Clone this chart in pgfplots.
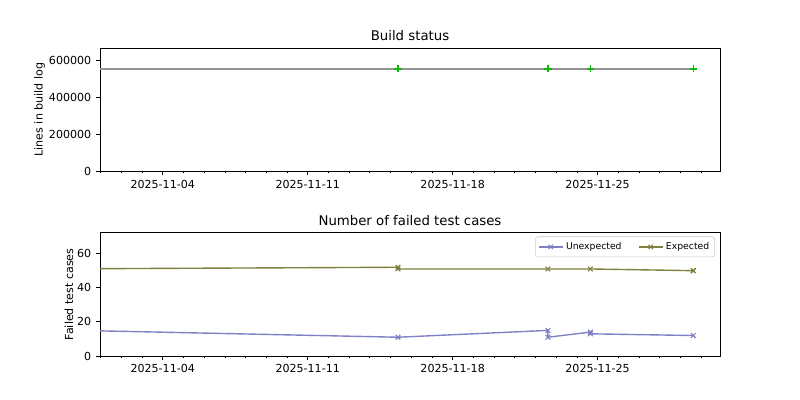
\documentclass[border=0pt]{standalone}
\usepackage{fontspec}
\setmainfont{DejaVu Sans}
\usepackage{pgfplots}
\pgfplotsset{compat=1.18}

\definecolor{unexp}{rgb}{0.5,0.5,0.78}
\definecolor{expd}{rgb}{0.5,0.5,0.25}
\definecolor{okgreen}{rgb}{0.05,0.72,0.05}
\definecolor{loggray}{rgb}{0.58,0.58,0.58}

\pgfplotsset{
  base/.style={
    scale only axis,
    width=6.2in, height=1.232in,
    xmin=0.97, xmax=30.91,
    xtick={4,11,18,25},
    xticklabels={2025-11-04,2025-11-11,2025-11-18,2025-11-25},
    minor xtick={1,...,30},
    tick align=outside, tick pos=left,
    major tick length=2.8pt, minor tick length=1.6pt,
    every major tick/.style={black, line width=0.64pt},
    every minor tick/.style={black, line width=0.5pt},
    axis line style={line width=0.64pt},
    ticklabel style={font=\fontsize{8}{10}\selectfont},
    label style={font=\fontsize{8}{10}\selectfont},
    y label style={yshift=-4pt},
    title style={font=\fontsize{9.6}{11}\selectfont, yshift=-4.5pt},
    /pgf/number format/assume math mode=true,
    /pgf/number format/fixed,
    /pgf/number format/1000 sep={},
    scaled y ticks=false,
  }
}

\begin{document}
\begin{tikzpicture}
\path[use as bounding box] (0,0) rectangle (8in,4in);

% build log size
\begin{axis}[base,
  at={(1in,2.288in)}, anchor=south west,
  title={Build status},
  ylabel={Lines in build log},
  ymin=0, ymax=668000,
  ytick={0,200000,400000,600000},
]
\addplot [okgreen, only marks, mark=+, mark size=2.6pt, line width=1pt]
coordinates {(15.36,555000) (22.6,555000) (24.65,555000) (29.62,555000)};
\addplot [loggray, line width=1.3pt]
coordinates {(-2,555000) (15.36,555000) (22.6,555000) (24.65,555000) (29.62,555000)};
\end{axis}

% failed tests
\begin{axis}[base,
  at={(1in,0.44in)}, anchor=south west,
  title={Number of failed test cases},
  ylabel={Failed test cases},
  ymin=0, ymax=72.2,
  ytick={0,20,40,60},
  legend style={at={(0.992,0.97)}, anchor=north east, legend columns=2,
    font=\fontsize{6.7}{8}\selectfont, draw=black!20, rounded corners=2pt,
    inner sep=2pt},
  legend cell align=left,
  legend image post style={mark size=2.2pt},
  legend style={/tikz/every even column/.append style={column sep=10pt}},
]
\addplot [unexp, line width=1pt, mark=x, mark size=2.4pt, mark options={line width=0.8pt}]
coordinates {(-2,15.5) (15.36,11) (22.6,15) (22.6,11) (24.65,14) (24.65,13) (29.62,12)};
\addlegendentry{Unexpected}
\addplot [expd, line width=1pt, mark=x, mark size=2.4pt, mark options={line width=0.8pt}]
coordinates {(-2,51) (15.36,52) (15.36,51) (22.6,51) (24.65,51) (29.62,50) (29.62,50)};
\addlegendentry{Expected}
\end{axis}
\end{tikzpicture}
\end{document}
